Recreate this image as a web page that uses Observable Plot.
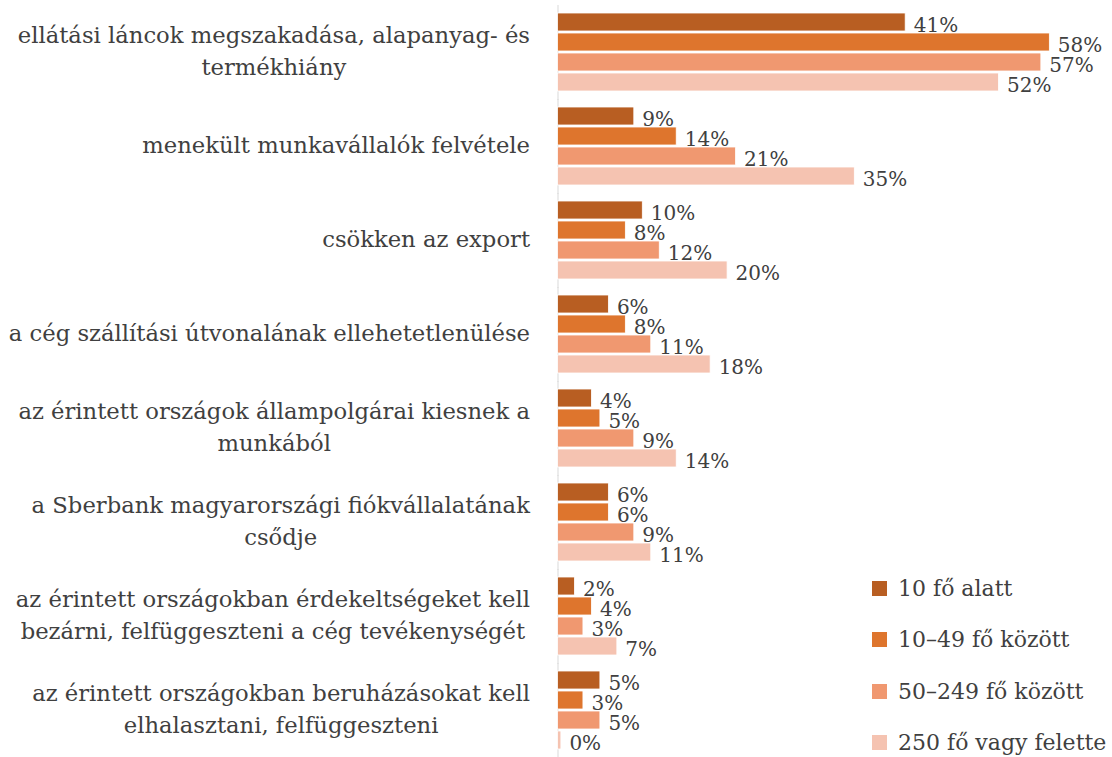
<!DOCTYPE html>
<html><head><meta charset="utf-8">
<script src="https://cdn.jsdelivr.net/npm/d3@7"></script>
<script src="https://cdn.jsdelivr.net/npm/@observablehq/plot@0.6"></script>
<style>
body{margin:0;background:#fff;}
#wrap{position:relative;width:1112px;height:757px;overflow:hidden;}
#legend{position:absolute;left:872px;top:0;font-family:"DejaVu Serif",serif;font-size:22px;color:#404040;}
#legend .item{position:absolute;left:0;white-space:nowrap;display:flex;align-items:center;}
#legend .sw{width:15px;height:15px;margin-right:11px;flex:none;}
</style></head><body><div id="wrap"></div>
<script>
const categories = [
  "ellátási láncok megszakadása, alapanyag- és\ntermékhiány",
  "menekült munkavállalók felvétele",
  "csökken az export",
  "a cég szállítási útvonalának ellehetetlenülése",
  "az érintett országok állampolgárai kiesnek a\nmunkából",
  "a Sberbank magyarországi fiókvállalatának\ncsődje",
  "az érintett országokban érdekeltségeket kell\nbezárni, felfüggeszteni a cég tevékenységét",
  "az érintett országokban beruházásokat kell\nelhalasztani, felfüggeszteni"
];
const series = ["10 fő alatt", "10–49 fő között", "50–249 fő között", "250 fő vagy felette"];
const values10 = [41, 9, 10, 6, 4, 6, 2, 5];
const values49 = [58, 14, 8, 8, 5, 6, 4, 3];
const values249 = [57, 21, 12, 11, 9, 9, 3, 5];
const values250 = [52, 35, 20, 18, 14, 11, 7, 0.4];
const colors = ["#B85E22", "#DE752D", "#F09870", "#F5C3B1"];

const seriesValues = [values10, values49, values249, values250];
const data = [];
categories.forEach((c, i) => series.forEach((s, j) => data.push({cat: c, series: s, value: seriesValues[j][i]})));

const font = "DejaVu Serif";
const ink = "#404040";

const marks = [
  Plot.barX(data, {fy: "cat", y: "series", x: "value", fill: "series", stroke: "white", strokeWidth: 0.8}),
  Plot.text(data, {fy: "cat", y: "series", x: "value", text: d => Math.round(d.value) + "%", textAnchor: "start", dx: 8, dy: 3, fill: ink, fontSize: 20, fontFamily: font}),
  Plot.text(categories, {fy: d => d, frameAnchor: "left", dx: -28, dy: -4.5, text: d => d, textAnchor: "middle", lineHeight: 1.45, fontSize: 22.7, fill: ink, fontFamily: font})
];
let axisRule;
try { axisRule = Plot.ruleX([0], {facet: "super", stroke: "#d9d9d9", strokeWidth: 1, insetTop: -7}); } catch (e) { axisRule = Plot.ruleX([0], {stroke: "#d9d9d9", insetTop: -6, insetBottom: -6}); }
marks.unshift(axisRule);

const chart = Plot.plot({
  width: 1112,
  height: 757,
  marginLeft: 557.5,
  marginRight: 45.7,
  marginTop: 10,
  marginBottom: 5,
  style: {fontFamily: font, background: "white"},
  x: {domain: [0, 60], axis: null},
  fy: {domain: categories, axis: null, paddingInner: 0.121, paddingOuter: 0},
  y: {domain: series, axis: null, paddingInner: 0.08, paddingOuter: 0.04},
  color: {domain: series, range: colors},
  marks
});
const wrap = document.getElementById("wrap");
wrap.appendChild(chart);

// center the lines of multi-line category labels, keeping the block's right edge fixed
const flatCats = new Set(categories.map(c => c.replace("\n", "")));
chart.querySelectorAll("text").forEach(t => {
  if (!flatCats.has(t.textContent)) return;
  const w = t.getBBox().width;
  const tr = t.getAttribute("transform") || "";
  t.setAttribute("transform", tr + ` translate(${-w / 2},0)`);
});

const legend = document.createElement("div");
legend.id = "legend";
const legendTops = [576, 627, 679, 730];
series.forEach((s, i) => {
  const item = document.createElement("div");
  item.className = "item";
  item.style.top = legendTops[i] + "px";
  const sw = document.createElement("span");
  sw.className = "sw";
  sw.style.background = colors[i];
  const lab = document.createElement("span");
  lab.textContent = s;
  item.appendChild(sw); item.appendChild(lab);
  legend.appendChild(item);
});
wrap.appendChild(legend);
</script></body></html>
